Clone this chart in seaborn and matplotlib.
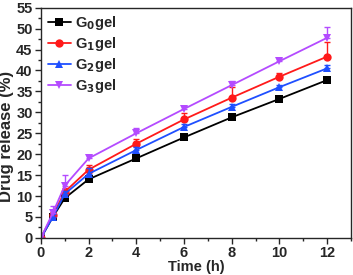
import matplotlib
matplotlib.use("Agg")
import matplotlib.pyplot as plt
import seaborn as sns
import pandas as pd
from matplotlib.ticker import MultipleLocator

tempo = [0, 0.5, 1, 2, 4, 6, 8, 10, 12]
g0 = [0, 5.0, 9.5, 14.0, 19.0, 24.0, 28.8, 33.2, 37.7]
g1 = [0, 5.5, 11.0, 16.3, 22.5, 28.3, 33.5, 38.5, 43.3]
g2 = [0, 5.0, 10.5, 15.3, 21.0, 26.5, 31.3, 36.0, 40.5]
g3 = [0, 6.0, 12.5, 19.0, 25.0, 30.8, 36.5, 42.2, 47.8]
err0 = [0, 0.5, 0.6, 0.5, 0.5, 0.4, 0.5, 0.5, 0.7]
err1 = [0, 0.8, 1.0, 1.0, 1.2, 1.5, 2.5, 1.0, 3.5]
err2 = [0, 0.6, 0.8, 1.5, 0.8, 0.6, 0.6, 0.6, 0.8]
err3 = [0, 1.5, 2.5, 0.8, 1.2, 0.8, 1.0, 0.8, 2.7]

series = [
    ("G$_0$gel", g0, err0, "black", "s"),
    ("G$_1$gel", g1, err1, "#ff1a1a", "o"),
    ("G$_2$gel", g2, err2, "#1f4fff", "^"),
    ("G$_3$gel", g3, err3, "#b44bff", "v"),
]

sns.set_style("ticks")
plt.rcParams["font.family"] = ["Liberation Sans", "DejaVu Sans"]
plt.rcParams["font.weight"] = "bold"
plt.rcParams["mathtext.default"] = "bf"

fig, ax = plt.subplots(figsize=(3.53, 2.75), dpi=100)

for nome, vals, errs, cor, mk in series:
    df = pd.DataFrame({"t": tempo, "v": vals})
    ax.errorbar(tempo, vals, yerr=[[0] * len(errs), errs], fmt="none",
                ecolor=cor, elinewidth=1, capsize=2, capthick=1)
    sns.lineplot(data=df, x="t", y="v", ax=ax, color=cor, marker=mk,
                 markersize=6, markeredgewidth=0, linewidth=1.3, label=nome)

ax.set_xlim(0, 13)
ax.set_ylim(0, 55)
ax.xaxis.set_major_locator(MultipleLocator(2))
ax.xaxis.set_minor_locator(MultipleLocator(1))
ax.yaxis.set_major_locator(MultipleLocator(5))
ax.yaxis.set_minor_locator(MultipleLocator(2.5))
ax.tick_params(axis="both", which="major", labelsize=10.5, length=4, width=1, pad=2)
ax.tick_params(axis="both", which="minor", length=2, width=1)
for lab in ax.get_xticklabels() + ax.get_yticklabels():
    lab.set_fontweight("bold")
for s in ax.spines.values():
    s.set_linewidth(1)

ax.set_xlabel("Time (h)", fontsize=10.5, fontweight="bold")
ax.set_ylabel("Drug release (%)", fontsize=12, fontweight="bold")
ax.xaxis.set_label_coords(0.5, -0.094)
ax.yaxis.set_label_coords(-0.087, 0.44)

leg = ax.legend(loc="upper left", frameon=False, fontsize=10.5, handlelength=1.6,
                borderaxespad=0.25, labelspacing=0.2, handletextpad=0.3,
                borderpad=0.2)
for t in leg.get_texts():
    t.set_fontweight("bold")

fig.subplots_adjust(left=0.116, right=0.994, top=0.972, bottom=0.135)
fig.savefig("out.png", dpi=100)
